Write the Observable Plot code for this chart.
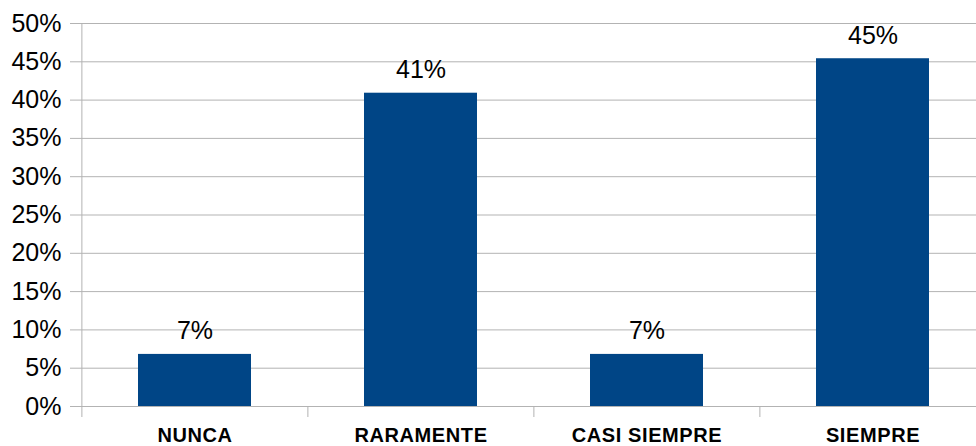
<!DOCTYPE html>
<html><head><meta charset="utf-8">
<script src="https://cdn.jsdelivr.net/npm/d3@7"></script>
<script src="https://cdn.jsdelivr.net/npm/@observablehq/plot@0.6"></script>
<style>
body{margin:0;background:#fff}
svg{overflow:hidden;display:block}
g[aria-label="x-axis tick label"] text{letter-spacing:0.6px}
</style>
</head><body><div id="chart"></div>
<script>
const categories = ["NUNCA", "RARAMENTE", "CASI SIEMPRE", "SIEMPRE"];
const values = [0.068, 0.409, 0.068, 0.454];
const labels = ["7%", "41%", "7%", "45%"];
const yTicks = [0, 0.05, 0.10, 0.15, 0.20, 0.25, 0.30, 0.35, 0.40, 0.45, 0.50];

const data = categories.map((c, i) => ({category: c, value: values[i], label: labels[i]}));
const W = 976, H = 446, left = 81, rightEdge = 986;
const step = (rightEdge - left) / categories.length;
const grid = "#b3b3b3";

const chart = Plot.plot({
  width: W, height: H,
  marginLeft: left, marginRight: 0, marginTop: 23, marginBottom: 40,
  style: {fontFamily: "'Liberation Sans', Arial, sans-serif", background: "#fff", overflow: "hidden"},
  x: {domain: categories, range: [left, rightEdge], paddingInner: 0.5, paddingOuter: 0.25, axis: null, label: null},
  y: {domain: [0, 0.5], axis: null, label: null},
  marks: [
    Plot.gridY(yTicks, {stroke: grid, strokeOpacity: 1}),
    Plot.axisY(yTicks, {tickSize: 11, text: null, stroke: grid, strokeOpacity: 1, label: null}),
    Plot.axisY(yTicks, {tickSize: 0, tickPadding: 20, tickFormat: d3.format(".0%"), fontSize: 25, color: "#000", label: null}),
    Plot.barY(data, {x: "category", y: "value", fill: "#004586"}),
    Plot.ruleX([categories[0]], {dx: -step / 2, stroke: grid, strokeOpacity: 1}),
    Plot.axisX({tickSize: 11, text: null, dx: -step / 2, stroke: grid, strokeOpacity: 1, label: null}),
    Plot.axisX({tickSize: 0, tickPadding: 21, fontSize: 20, fontWeight: "bold", color: "#000", label: null}),
    Plot.text(data, {x: "category", y: "value", text: "label", lineAnchor: "bottom", dy: -15, fontSize: 25, fill: "#000"})
  ]
});
document.getElementById("chart").append(chart);
</script>
</body></html>
